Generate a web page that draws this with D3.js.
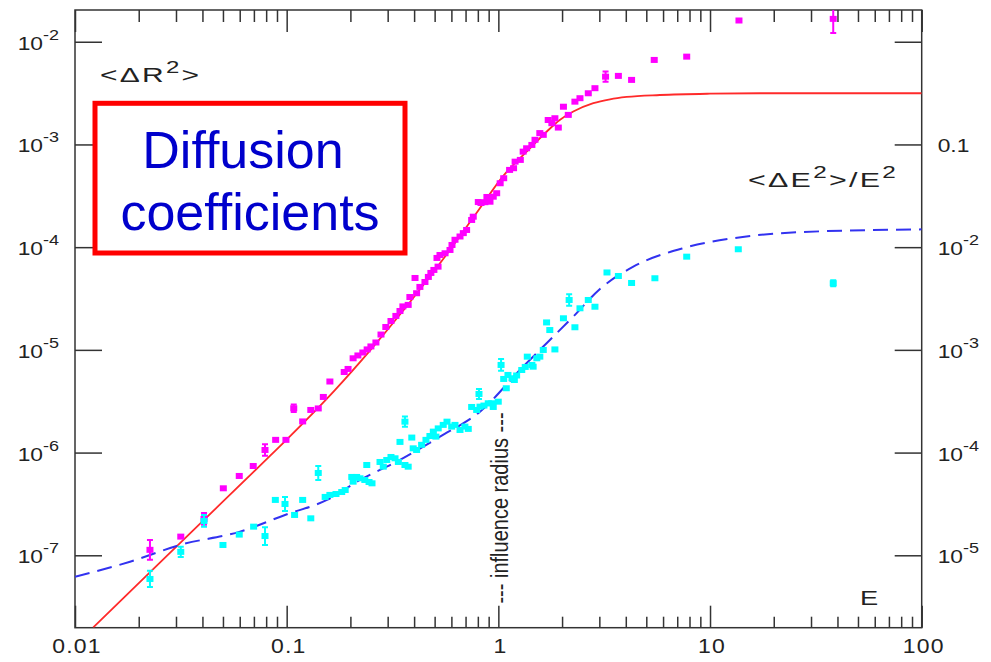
<!DOCTYPE html>
<html>
<head>
<meta charset="utf-8">
<script src="https://cdn.jsdelivr.net/npm/d3@7"></script>
<style>
body { margin: 0; background: #fff; }
text { font-family: "Liberation Sans", Arial, sans-serif; fill: #222; }
</style>
</head>
<body>
<script>
const MARGIN = { LEFT: 75, RIGHT: 69.3, TOP: 10, BOTTOM: 34.3 }
const WIDTH = 991 - MARGIN.LEFT - MARGIN.RIGHT
const HEIGHT = 662 - MARGIN.TOP - MARGIN.BOTTOM

// <dR^2> points, left axis: [E, value, error factor]
const magentaPoints = [
  [0.0226, 1.13e-7, 1.25], [0.0316, 1.52e-7], [0.0407, 2.26e-7, 1.14], [0.0502, 4.49e-7],
  [0.0597, 5.92e-7], [0.0695, 7.40e-7], [0.0790, 1.06e-6, 1.14], [0.0887, 1.33e-6],
  [0.0992, 1.33e-6], [0.108, 2.70e-6, 1.09], [0.119, 2.01e-6], [0.130, 2.60e-6],
  [0.141, 2.69e-6], [0.149, 3.48e-6], [0.160, 4.92e-6], [0.187, 6.09e-6],
  [0.195, 6.52e-6], [0.206, 8.28e-6], [0.217, 8.82e-6], [0.229, 9.43e-6],
  [0.240, 1.01e-5], [0.250, 1.08e-5], [0.264, 1.18e-5], [0.279, 1.41e-5],
  [0.294, 1.67e-5], [0.311, 1.91e-5], [0.328, 2.14e-5], [0.343, 2.39e-5],
  [0.354, 2.65e-5], [0.375, 2.74e-5], [0.382, 3.27e-5], [0.404, 5.01e-5],
  [0.411, 3.56e-5], [0.426, 4.10e-5], [0.450, 4.58e-5], [0.467, 5.13e-5],
  [0.480, 5.61e-5], [0.496, 6.00e-5], [0.519, 6.46e-5], [0.513, 7.85e-5],
  [0.530, 8.39e-5], [0.560, 8.72e-5], [0.591, 9.39e-5], [0.604, 1.05e-4],
  [0.624, 1.18e-4], [0.659, 1.27e-4], [0.683, 1.37e-4], [0.708, 1.47e-4],
  [0.748, 1.84e-4], [0.761, 1.98e-4], [0.804, 2.75e-4], [0.828, 2.69e-4],
  [0.864, 2.74e-4], [0.883, 3.08e-4], [0.913, 2.77e-4], [0.946, 3.10e-4],
  [0.982, 3.35e-4], [1.02, 4.19e-4], [1.06, 4.69e-4], [1.13, 5.65e-4],
  [1.18, 5.87e-4], [1.20, 6.80e-4], [1.27, 7.07e-4], [1.31, 8.51e-4],
  [1.36, 9.18e-4], [1.44, 9.89e-4], [1.49, 1.11e-3], [1.57, 1.29e-3],
  [1.63, 1.24e-3], [1.72, 1.73e-3], [1.79, 1.61e-3], [1.85, 1.80e-3],
  [1.92, 1.46e-3], [2.03, 2.33e-3], [2.14, 1.94e-3], [2.30, 2.61e-3],
  [2.43, 2.82e-3], [2.66, 3.15e-3], [2.86, 3.53e-3], [3.21, 4.57e-3, 1.12],
  [3.69, 4.65e-3], [4.26, 4.25e-3], [5.45, 6.65e-3], [7.76, 7.16e-3],
  [13.7, 1.61e-2], [38.2, 1.67e-2, 1.37]
]

// <dE^2>/E^2 points, right axis: [E, value, error factor]
const cyanPoints = [
  [0.0226, 5.88e-6, 1.2], [0.0316, 1.08e-5, 1.12], [0.0407, 2.16e-5, 1.14], [0.0500, 1.26e-5],
  [0.0597, 1.59e-5], [0.0698, 1.90e-5], [0.0790, 1.54e-5, 1.22], [0.0884, 3.46e-5],
  [0.0982, 3.16e-5, 1.17], [0.109, 2.47e-5], [0.119, 3.46e-5], [0.130, 2.29e-5],
  [0.141, 6.33e-5, 1.17], [0.152, 3.70e-5], [0.160, 3.87e-5], [0.171, 3.95e-5],
  [0.182, 4.13e-5], [0.189, 4.32e-5], [0.203, 5.79e-5], [0.206, 5.21e-5],
  [0.214, 5.79e-5], [0.222, 5.62e-5], [0.234, 5.41e-5], [0.239, 7.57e-5],
  [0.245, 5.17e-5], [0.253, 5.02e-5], [0.276, 8.10e-5], [0.286, 7.29e-5],
  [0.297, 8.47e-5], [0.311, 9.06e-5], [0.325, 8.80e-5], [0.337, 8.10e-5],
  [0.343, 1.27e-4], [0.362, 2.00e-4, 1.12], [0.362, 7.57e-5], [0.375, 7.29e-5],
  [0.390, 1.40e-4], [0.396, 1.10e-4], [0.411, 1.06e-4], [0.434, 1.19e-4],
  [0.455, 1.33e-4], [0.475, 1.45e-4], [0.493, 1.60e-4], [0.507, 1.43e-4],
  [0.520, 1.72e-4], [0.549, 1.86e-4], [0.572, 2.00e-4], [0.602, 1.79e-4],
  [0.624, 1.86e-4], [0.659, 1.66e-4], [0.695, 1.79e-4], [0.721, 1.70e-4],
  [0.748, 2.78e-4], [0.790, 2.60e-4], [0.810, 3.72e-4, 1.12], [0.819, 2.80e-4],
  [0.855, 2.87e-4], [0.896, 3.02e-4], [0.930, 3.02e-4], [0.946, 2.78e-4],
  [0.999, 3.13e-4], [1.03, 7.13e-4, 1.14], [1.06, 5.21e-4], [1.09, 4.23e-4],
  [1.11, 5.70e-4], [1.16, 5.29e-4], [1.19, 5.09e-4], [1.22, 5.63e-4],
  [1.29, 6.37e-4], [1.34, 6.82e-4], [1.37, 8.59e-4], [1.44, 7.13e-4],
  [1.46, 6.86e-4], [1.52, 8.28e-4], [1.57, 8.59e-4], [1.63, 9.98e-4],
  [1.85, 1.01e-3], [1.69, 1.85e-3], [1.75, 1.56e-3], [2.03, 2.03e-3],
  [2.16, 3.06e-3, 1.14], [2.30, 1.66e-3], [2.43, 2.54e-3], [2.66, 3.06e-3],
  [2.86, 2.63e-3], [3.26, 5.67e-3], [3.69, 5.24e-3], [4.26, 4.48e-3],
  [5.49, 4.98e-3], [7.76, 8.08e-3], [13.6, 9.54e-3], [38.2, 4.45e-3, 1.07]
]

// fitted curves: red (left axis), blue dashed (right axis)
const redCurve = [
  [0.0122, 1.99e-8], [0.0182, 4.43e-8], [0.0390, 2.03e-7], [0.0834, 9.29e-7],
  [0.100, 1.34e-6], [0.169, 4.06e-6], [0.248, 9.90e-6], [0.369, 2.66e-5],
  [0.549, 7.67e-5], [0.790, 2.16e-4], [1.06, 5.00e-4], [1.36, 8.51e-4],
  [1.69, 1.33e-3], [1.95, 1.73e-3], [2.26, 2.09e-3], [2.81, 2.52e-3],
  [3.37, 2.75e-3], [4.04, 2.90e-3], [5.80, 3.03e-3], [10.0, 3.12e-3],
  [17.2, 3.15e-3], [100, 3.15e-3]
]
const blueCurve = [
  [0.01, 6.19e-6], [0.0182, 8.66e-6], [0.0313, 1.26e-5], [0.0602, 1.70e-5],
  [0.0982, 2.47e-5], [0.155, 3.46e-5], [0.222, 5.41e-5], [0.343, 8.47e-5],
  [0.530, 1.43e-4], [0.819, 2.50e-4], [1.29, 6.66e-4], [1.69, 1.16e-3],
  [2.26, 2.11e-3], [3.02, 3.92e-3], [4.32, 6.42e-3], [7.45, 9.76e-3],
  [12.8, 1.22e-2], [26.6, 1.40e-2], [100, 1.49e-2]
]

// ticks and labels
const xTickValues = [0.01, 0.1, 1, 10, 100]
const xTickLabels = ["0.01", "0.1", "1", "10", "100"]
const leftTickValues = [1e-2, 1e-3, 1e-4, 1e-5, 1e-6, 1e-7]
const leftTickLabels = ["10^-2", "10^-3", "10^-4", "10^-5", "10^-6", "10^-7"]
const rightTickValues = [1, 0.1, 1e-2, 1e-3, 1e-4, 1e-5]
const rightTickLabels = ["", "0.1", "10^-2", "10^-3", "10^-4", "10^-5"]

const svg = d3.select("body").append("svg")
    .attr("width", 991)
    .attr("height", 662)

const g = svg.append("g")
    .attr("transform", `translate(${MARGIN.LEFT}, ${MARGIN.TOP})`)

// Scales
const x = d3.scaleLog()
    .domain([0.01, 100])
    .range([0, WIDTH])
const yL = d3.scaleLog()
    .domain([Math.pow(10, -7.705), Math.pow(10, -1.691)])
    .range([HEIGHT, 0])
const yR = d3.scaleLog()
    .domain(yL.domain().map(d => d * 100))
    .range([HEIGHT, 0])

// Axes (ticks only, pointing inward)
const minorX = d3.range(-2, 2).flatMap(k => d3.range(2, 10).map(m => +(m * Math.pow(10, k)).toPrecision(3)))
const bottom = g.append("g").attr("transform", `translate(0, ${HEIGHT})`)
bottom.append("g").call(d3.axisBottom(x).tickValues(minorX).tickSize(-11).tickFormat(""))
bottom.append("g").call(d3.axisBottom(x).tickValues(xTickValues).tickSize(-22).tickFormat(""))
g.append("g").call(d3.axisTop(x).tickValues(minorX).tickSize(-12).tickFormat(""))
g.append("g").call(d3.axisTop(x).tickValues(xTickValues).tickSize(-22).tickFormat(""))
g.append("g").call(d3.axisLeft(yL).tickValues(leftTickValues).tickSize(-27).tickFormat(""))
g.append("g").attr("transform", `translate(${WIDTH}, 0)`)
    .call(d3.axisRight(yR).tickValues(rightTickValues).tickSize(-27).tickFormat(""))
g.selectAll(".domain").remove()
g.selectAll(".tick line").attr("stroke", "#333").attr("stroke-width", 1.5)

g.append("rect")
    .attr("width", WIDTH)
    .attr("height", HEIGHT)
    .attr("fill", "none")
    .attr("stroke", "#333")
    .attr("stroke-width", 1.5)

// text helpers: the original glyphs are stretched sideways
function stretched(parent, px, py, sx, anchor) {
  return parent.append("g")
      .attr("transform", `translate(${px}, ${py}) scale(${sx}, 1)`)
    .append("text")
      .attr("text-anchor", anchor)
}
function powerText(t, label, size, supSize, rise) {
  const parts = label.split("^")
  t.append("tspan").attr("font-size", size).text(parts[0])
  if (parts[1]) t.append("tspan").attr("font-size", supSize).attr("dy", -rise).text(parts[1])
}

leftTickValues.forEach((v, i) => {
  powerText(stretched(g, -16, yL(v) + 8, 1.2, "end"), leftTickLabels[i], 19, 15, 10)
})
rightTickValues.forEach((v, i) => {
  if (rightTickLabels[i]) powerText(stretched(g, WIDTH + 16, yR(v) + 8, 1.2, "start"), rightTickLabels[i], 19, 15, 10)
})
xTickValues.forEach((v, i) => {
  stretched(g, x(v) + 2, HEIGHT + 25, 1.15, "middle")
      .attr("font-size", 20)
      .attr("letter-spacing", 1)
      .text(xTickLabels[i])
})

// Clip for data
g.append("clipPath").attr("id", "plot-clip")
  .append("rect").attr("width", WIDTH).attr("height", HEIGHT)
const plot = g.append("g").attr("clip-path", "url(#plot-clip)")

// Curves
const redLine = d3.line().x(d => x(d[0])).y(d => yL(d[1])).curve(d3.curveMonotoneX)
const blueLine = d3.line().x(d => x(d[0])).y(d => yR(d[1])).curve(d3.curveMonotoneX)
plot.append("path").datum(redCurve)
    .attr("d", redLine)
    .attr("fill", "none")
    .attr("stroke", "#ff2a2a")
    .attr("stroke-width", 1.8)
plot.append("path").datum(blueCurve)
    .attr("d", blueLine)
    .attr("fill", "none")
    .attr("stroke", "#3232f0")
    .attr("stroke-width", 2)
    .attr("stroke-dasharray", "15,8")

// Points with error bars
function drawPoints(data, yScale, color) {
  const layer = plot.append("g")
  const withErr = data.filter(d => d[2])
  layer.selectAll(".err").data(withErr).enter().append("path")
      .attr("d", d => {
        const cx = x(d[0]), y0 = yScale(d[1] * d[2]), y1 = yScale(d[1] / d[2])
        return `M${cx - 3},${y0}H${cx + 3}M${cx},${y0}V${y1}M${cx - 3},${y1}H${cx + 3}`
      })
      .attr("stroke", color)
      .attr("stroke-width", 2)
      .attr("fill", "none")
  layer.selectAll(".pt").data(data).enter().append("rect")
      .attr("x", d => x(d[0]) - 3.5)
      .attr("y", d => yScale(d[1]) - 3)
      .attr("width", 7)
      .attr("height", 6)
      .attr("fill", color)
}
drawPoints(magentaPoints, yL, "#ff00ff")
drawPoints(cyanPoints, yR, "#00ffff")

// Axis titles
const rLabel = stretched(g, 25, 72, 1.5, "start").attr("letter-spacing", 1.5)
rLabel.append("tspan").attr("font-size", 20).text("<\u0394R")
rLabel.append("tspan").attr("font-size", 16).attr("dy", -9).text("2")
rLabel.append("tspan").attr("font-size", 20).attr("dy", 9).text(">")

const eLabel = stretched(g, 673, 177, 1.52, "start").attr("letter-spacing", 1.5)
eLabel.append("tspan").attr("font-size", 20).text("<\u0394E")
eLabel.append("tspan").attr("font-size", 16).attr("dy", -9).text("2")
eLabel.append("tspan").attr("font-size", 20).attr("dy", 9).text(">/E")
eLabel.append("tspan").attr("font-size", 16).attr("dy", -9).text("2")

stretched(g, 785, 595, 1.3, "start").attr("font-size", 21).text("E")

// influence radius marker
g.append("g")
    .attr("transform", `translate(${x(1) + 10}, 498) scale(1.15, 1) rotate(-90)`)
  .append("text")
    .attr("text-anchor", "middle")
    .attr("font-size", 20)
    .attr("fill", "#333")
    .text("--- influence radius ---")

// Red annotation box
svg.append("rect")
    .attr("x", 95).attr("y", 103.3)
    .attr("width", 310).attr("height", 149.7)
    .attr("fill", "#fff")
    .attr("stroke", "#ff0000")
    .attr("stroke-width", 5)
svg.append("text")
    .attr("x", 243).attr("y", 168)
    .attr("text-anchor", "middle")
    .attr("font-size", 52)
    .style("fill", "#0000cc")
    .text("Diffusion")
svg.append("text")
    .attr("x", 250).attr("y", 230)
    .attr("text-anchor", "middle")
    .attr("font-size", 52)
    .style("fill", "#0000cc")
    .text("coefficients")
</script>
</body>
</html>
